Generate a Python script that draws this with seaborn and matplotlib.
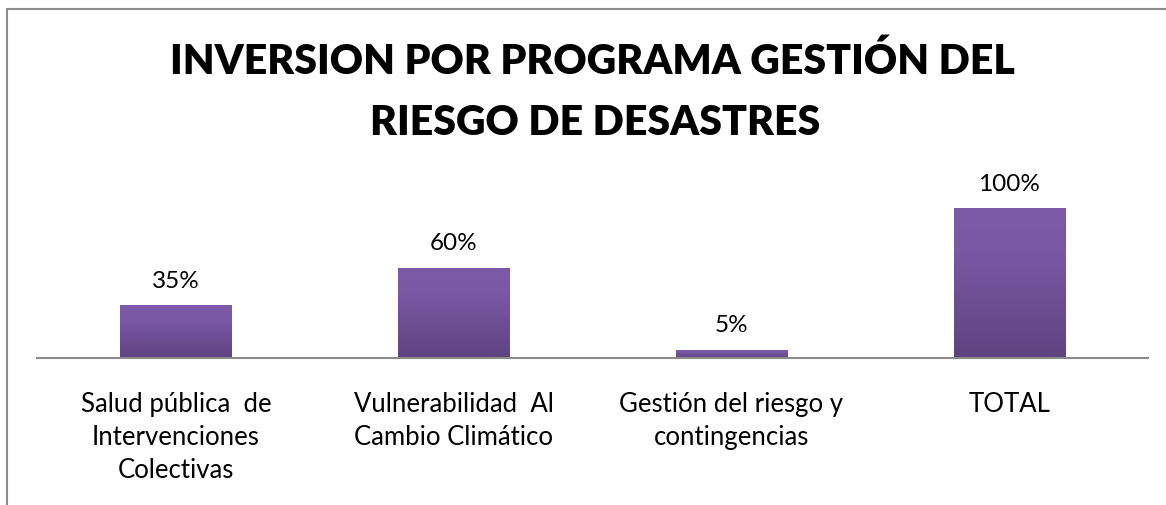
import matplotlib
matplotlib.use("Agg")
import matplotlib.pyplot as plt
from matplotlib.colors import LinearSegmentedColormap
from matplotlib.lines import Line2D
import numpy as np
import pandas as pd
import seaborn as sns

# data
categories = [
    "Salud pública  de\nIntervenciones\nColectivas",
    "Vulnerabilidad  Al\nCambio Climático",
    "Gestión del riesgo y\ncontingencias",
    "TOTAL",
]
shares = [0.35, 0.60, 0.05, 1.00]
value_labels = ["35%", "60%", "5%", "100%"]
title_lines = ["INVERSION POR PROGRAMA GESTIÓN DEL", "RIESGO DE DESASTRES"]

df = pd.DataFrame({"programa": categories, "inversion": shares})

sns.set_style("white")
plt.rcParams["font.family"] = ["Lato", "DejaVu Sans"]

W, H = 1166, 506
fig = plt.figure(figsize=(W / 100, H / 100), dpi=100)
ax = fig.add_axes([37 / W, 1 - 359 / H, (1148 - 37) / W, (359 - 180) / H])

sns.barplot(data=df, x="programa", y="inversion", color="#7152a0",
            width=0.4, ax=ax)

# vertical gradient on each bar, like the office chart fill
grad = np.linspace(0, 1, 256).reshape(-1, 1)
cmap = LinearSegmentedColormap.from_list(
    "bar", [(0, "#5e4380"), (0.72, "#7a58a4"), (1, "#7c5aa7")])
for bar in ax.patches:
    x0, y0 = bar.get_x(), bar.get_y()
    w, h = bar.get_width(), bar.get_height()
    ax.imshow(grad, extent=[x0, x0 + w, y0, y0 + h], origin="lower",
              cmap=cmap, aspect="auto", zorder=bar.get_zorder() + 0.1)

ax.set_xlim(-0.5, 3.5)
ax.set_ylim(0, 1.2)

ax.bar_label(ax.containers[0], labels=value_labels, padding=11,
             fontsize=17.5, color="black")

ax.set_xlabel("")
ax.set_ylabel("")
ax.set_yticks([])
ax.tick_params(axis="x", length=0, pad=24, labelsize=18.5, labelcolor="black")
for lab in ax.get_xticklabels():
    lab.set_linespacing(1.4)
for side in ["left", "top", "right"]:
    ax.spines[side].set_visible(False)
ax.spines["bottom"].set_color("#8a8a8a")
ax.spines["bottom"].set_linewidth(1.5)

fig.text(592 / W, 1 - 61 / H, title_lines[0], ha="center", va="center",
         fontsize=29.5, fontweight="heavy", color="black")
fig.text(595 / W, 1 - 123 / H, title_lines[1], ha="center", va="center",
         fontsize=29.5, fontweight="heavy", color="black")

# chart frame (only top and left edges are visible in the crop)
fig.add_artist(Line2D([7 / W, 1], [1 - 10 / H, 1 - 10 / H],
                      transform=fig.transFigure, color="#8c8c8c", lw=1.5))
fig.add_artist(Line2D([7 / W, 7 / W], [0, 1 - 10 / H],
                      transform=fig.transFigure, color="#8c8c8c", lw=1.5))

fig.savefig("out.png", dpi=100)
